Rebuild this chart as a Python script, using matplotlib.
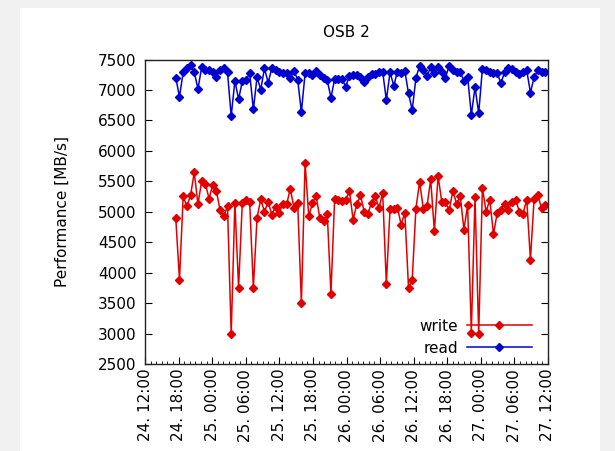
import pandas as pd
import matplotlib
matplotlib.use("Agg")
import matplotlib.pyplot as plt
import matplotlib.dates as mdates
from matplotlib.patches import Rectangle

# Messwerte (MB/s), ca. alle 40 Minuten
write = [4890, 3884, 5255, 5090, 5270, 5645, 5125, 5500, 5463, 5217,
         5447, 5337, 5024, 4925, 5095, 2990, 5150, 3753, 5145, 5190,
         5160, 3753, 4905, 5205, 5000, 5160, 4953, 5079, 4980, 5135,
         5120, 5380, 5062, 5145, 3500, 5803, 4925, 5145, 5255, 4890,
         4845, 4970, 3655, 5217, 5200, 5177, 5200, 5342, 4872, 5123,
         5270, 5000, 4970, 5150, 5255, 5062, 5310, 3818, 5052, 5052,
         5069, 4789, 4986, 3753, 3884, 5052, 5490, 5052, 5090, 5530,
         4680, 5590, 5160, 5160, 5024, 5342, 5135, 5255, 4707, 5107,
         3017, 5243, 2996, 5397, 5000, 5200, 4630, 4980, 5036, 5135,
         5024, 5160, 5200, 5000, 4970, 5200, 4215, 5217, 5270, 5062,
         5107]

read = [7200, 6890, 7290, 7355, 7415, 7290, 7020, 7370, 7330, 7325,
        7290, 7220, 7327, 7355, 7290, 6571, 7150, 6848, 7140, 7163,
        7273, 6681, 7210, 7005, 7355, 7122, 7355, 7320, 7290, 7273,
        7273, 7200, 7310, 7170, 6635, 7273, 7273, 7250, 7310, 7240,
        7200, 7160, 6872, 7180, 7180, 7180, 7053, 7234, 7250, 7240,
        7220, 7125, 7210, 7270, 7270, 7290, 7300, 6834, 7290, 7069,
        7300, 7280, 7311, 6944, 6670, 7195, 7400, 7320, 7230, 7370,
        7280, 7380, 7300, 7200, 7400, 7330, 7300, 7290, 7150, 7217,
        6590, 7043, 6620, 7350, 7320, 7300, 7285, 7280, 7108, 7290,
        7360, 7350, 7290, 7270, 7290, 7320, 6958, 7207, 7330, 7290,
        7300]

t_start = "2023-03-24 17:30"
t_end = "2023-03-27 11:30"
x_min = "2023-03-24 12:00"
x_max = "2023-03-27 12:00"

zeiten = pd.date_range(t_start, t_end, periods=len(write))

fig = plt.figure(figsize=(6.15, 4.51), dpi=100, facecolor="#f1f1f1")
hintergrund = Rectangle((20 / 615, 0), 580 / 615, 1 - 8 / 451,
                        transform=fig.transFigure, facecolor="white",
                        edgecolor="none", zorder=-10)
fig.add_artist(hintergrund)

ax = fig.add_axes([145 / 615, 1 - 364 / 451, 403 / 615, 304.5 / 451])
ax.set_zorder(1)
ax.set_facecolor("white")

ax.plot(zeiten, write, color="#e00000", lw=1.1, marker="D", ms=4.5,
        label="write")
ax.plot(zeiten, read, color="#0000d0", lw=1.1, marker="D", ms=4.5,
        label="read")

ax.set_ylim(2500, 7500)
ax.set_yticks(range(2500, 7501, 500))
ax.set_xlim(pd.Timestamp(x_min), pd.Timestamp(x_max))
ax.xaxis.set_major_locator(mdates.HourLocator(byhour=[0, 6, 12, 18]))
ax.xaxis.set_minor_locator(mdates.HourLocator())
ax.xaxis.set_major_formatter(mdates.DateFormatter("%d. %H:%M"))

ax.tick_params(axis="both", which="both", direction="in", labelsize=11,
               right=True, top=False)
ax.tick_params(axis="both", which="major", length=5)
ax.tick_params(axis="x", which="minor", length=2.5)
ax.tick_params(axis="y", which="major", pad=6)
plt.setp(ax.get_xticklabels(), rotation=90)

for s in ax.spines.values():
    s.set_linewidth(1.0)
    s.set_color("#222222")

ax.set_title("OSB 2", fontsize=11, pad=16)
ax.set_ylabel("Performance [MB/s]", fontsize=11, labelpad=20)

ax.legend(loc="lower right", bbox_to_anchor=(0.98, 0.0), frameon=False,
          fontsize=11, numpoints=1, markerfirst=False, handlelength=4.2,
          borderaxespad=0.15, labelspacing=0.45, handletextpad=0.6)

fig.savefig("out.png", dpi=100, facecolor=fig.get_facecolor())
